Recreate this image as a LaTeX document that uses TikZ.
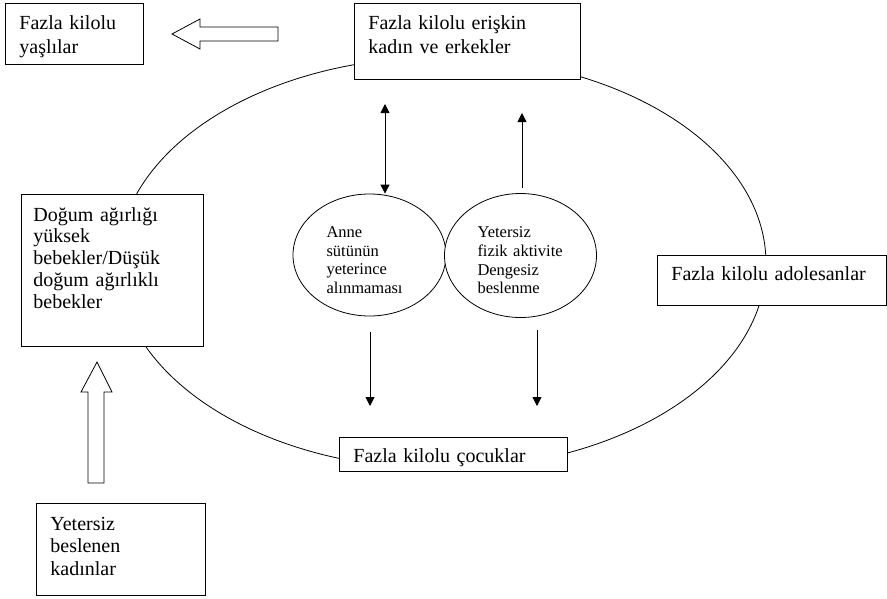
\documentclass[tikz,border=0pt]{standalone}
\usepackage{fontspec}
\setmainfont{Liberation Serif}
\usetikzlibrary{arrows.meta,shapes.geometric}
\begin{document}
\begin{tikzpicture}[x=1pt,y=-1pt,
  every path/.style={line width=0.8pt},
  box/.style={draw, fill=white, anchor=north west, inner sep=0pt, line width=0.8pt},
  lbl/.style={anchor=base west, inner sep=0pt, align=left, text width=#1,
              font=\fontsize{20pt}{23pt}\selectfont},
  oval/.style={draw, ellipse, fill=white, inner sep=0pt, align=left, text width=86pt,
               font=\fontsize{16.5pt}{18.7pt}\selectfont},
  thin/.style={line width=0.8pt, -{Triangle[length=9pt,width=9pt]}},
  hollow/.style={draw, line width=0.8pt, fill=white}
]
\useasboundingbox (0,0) rectangle (887,598);

% main cycle
\draw (442,263) ellipse [x radius=324pt, y radius=206pt];

% boxes
\node[box, minimum width=138pt, minimum height=61pt] (yasbox) at (5,3) {};
\node[lbl=130pt, font=\fontsize{20pt}{24pt}\selectfont] (yas) at (19,29) {Fazla kilolu\\yaşlılar};

\node[box, minimum width=226pt, minimum height=76pt] (erbox) at (354,3) {};
\node[lbl=210pt, font=\fontsize{20pt}{24pt}\selectfont] (er) at (368,29) {Fazla kilolu erişkin\\kadın ve erkekler};

\node[box, minimum width=182pt, minimum height=152pt] (dobox) at (21,194) {};
\node[lbl=170pt, font=\fontsize{20pt}{21.8pt}\selectfont] (do) at (33,221) {Doğum ağırlığı\\yüksek\\bebekler/Düşük\\doğum ağırlıklı\\bebekler};

\node[box, minimum width=229pt, minimum height=50pt] (adbox) at (657,255) {};
\node[lbl=215pt] (ad) at (671,280) {Fazla kilolu adolesanlar};

\node[box, minimum width=228pt, minimum height=34pt] (cobox) at (339,437) {};
\node[lbl=215pt] (co) at (353,462) {Fazla kilolu çocuklar};

\node[box, minimum width=169pt, minimum height=92pt] (kabox) at (36,503) {};
\node[lbl=150pt, font=\fontsize{20pt}{22.5pt}\selectfont] (ka) at (50,530) {Yetersiz\\beslenen\\kadınlar};

% inner ellipses
\node[oval, minimum width=153pt, minimum height=122pt] (anne) at (369.5,255) {\rule{0pt}{21pt}Anne\\sütünün\\yeterince\\alınmaması};
\node[oval, minimum width=152pt, minimum height=124pt] (fizik) at (520.5,255.5) {\rule{0pt}{21pt}Yetersiz\\fizik aktivite\\Dengesiz\\beslenme};

% thin arrows
\coordinate (dtop) at (385,104);
\draw[thin, {Triangle[length=9pt,width=9pt]}-{Triangle[length=9pt,width=9pt]}] (dtop) -- (dtop |- anne.north);
\coordinate (uptail) at (522,188);
\coordinate (uptip) at (522,113);
\draw[thin] (uptail) -- (uptip);
\coordinate (la) at (370,332);
\coordinate (lb) at (370,406);
\draw[thin] (la) -- (lb);
\coordinate (ra) at (537,330);
\coordinate (rb) at (537,406);
\draw[thin] (ra) -- (rb);

% hollow block arrows
\draw[hollow] (172,34) -- (200,19) -- (200,27) -- (278,27) -- (278,41) -- (200,41) -- (200,49) -- cycle;
\draw[hollow] (97,362) -- (112,392) -- (104,392) -- (104,483) -- (88,483) -- (88,392) -- (81,392) -- cycle;
\end{tikzpicture}
\end{document}
